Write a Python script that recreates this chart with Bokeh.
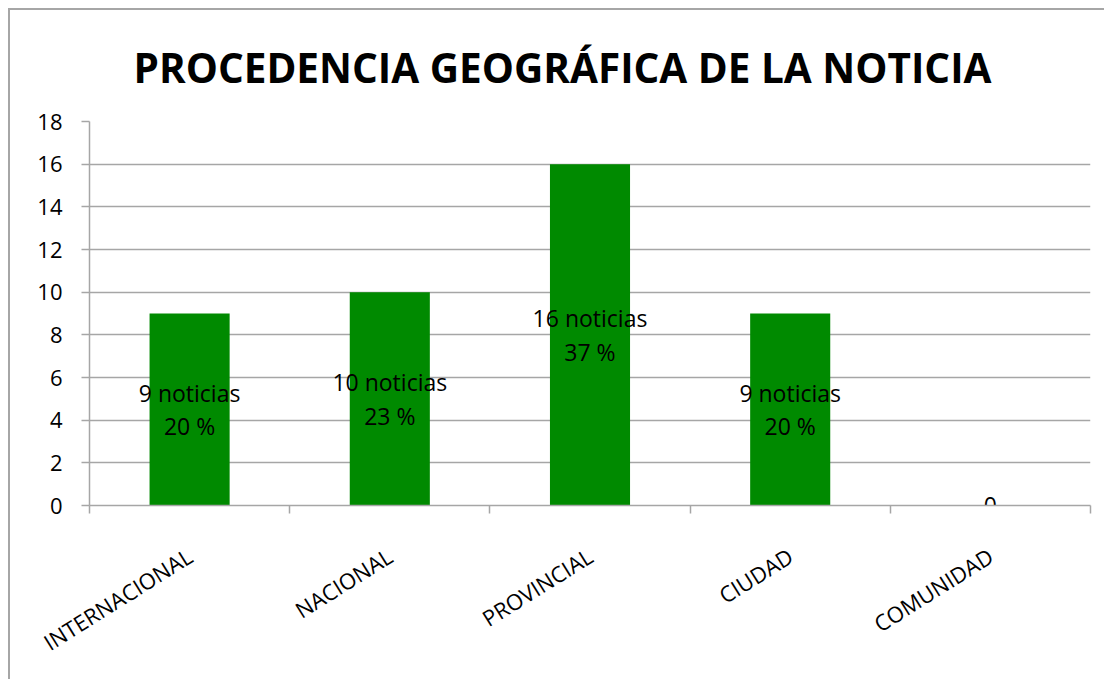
from bokeh.plotting import figure
from bokeh.models import ColumnDataSource, FixedTicker, Range1d, Title
from bokeh.core.properties import value
from bokeh.embed import file_html
from bokeh.resources import INLINE

categories = ["INTERNACIONAL", "NACIONAL", "PROVINCIAL", "CIUDAD", "COMUNIDAD"]
counts = [9, 10, 16, 9, 0]
percents = [20, 23, 37, 20, 0]
y_ticks = [0, 2, 4, 6, 8, 10, 12, 14, 16, 18]

FONT = "Open Sans"
GRID = "#a6a6a6"
GREEN = "#008a00"

xs = [i + 0.5 for i in range(len(categories))]
labels = [f"{n} noticias\n{p} %" if n else "0" for n, p in zip(counts, percents)]
src = ColumnDataSource(dict(x=xs, top=counts, mid=[c / 2 for c in counts], label=labels))

p = figure(width=1096, height=671, output_backend="svg", toolbar_location=None,
           x_range=Range1d(0, len(categories)), y_range=Range1d(0, 18),
           min_border_left=79, min_border_right=16, min_border_top=111, min_border_bottom=176,
           title=None)
p.styles = {"margin-left": "10px", "margin-top": "10px",
            "box-shadow": "-2px -2px 0 0 #a6a6a6"}

t = Title(text="PROCEDENCIA GEOGRÁFICA DE LA NOTICIA", align="left", vertical_align="middle",
          text_font=FONT, text_font_size="40.5px", text_font_style="bold",
          text_color="black", standoff=52, offset=44)
p.add_layout(t, "above")

p.vbar(x="x", top="top", width=0.4, bottom=0, source=src, fill_color=GREEN, line_color=None)
p.text(x="x", y="mid", text="label", source=src, text_align="center", text_baseline="middle",
       text_font=value(FONT), text_font_size="23px", text_line_height=1.05, text_color="black")

p.outline_line_color = None
p.background_fill_color = "white"
p.border_fill_color = "white"

p.xgrid.grid_line_color = None
p.ygrid.grid_line_color = GRID
p.ygrid.grid_line_width = 1.5

p.yaxis.ticker = FixedTicker(ticks=y_ticks)
p.yaxis.axis_line_color = GRID
p.yaxis.axis_line_width = 1.5
p.yaxis.major_tick_line_color = GRID
p.yaxis.major_tick_line_width = 1.5
p.yaxis.major_tick_out = 8
p.yaxis.major_tick_in = 0
p.yaxis.minor_tick_line_color = None
p.yaxis.major_label_text_font = FONT
p.yaxis.major_label_text_font_size = "22px"
p.yaxis.major_label_text_color = "black"
p.yaxis.major_label_standoff = 19

p.xaxis.ticker = FixedTicker(ticks=xs, minor_ticks=list(range(len(categories) + 1)))
p.xaxis.major_label_overrides = {x: c for x, c in zip(xs, categories)}
p.xaxis.axis_line_color = GRID
p.xaxis.axis_line_width = 1.5
p.xaxis.major_tick_line_color = None
p.xaxis.minor_tick_line_color = GRID
p.xaxis.minor_tick_line_width = 1.5
p.xaxis.minor_tick_out = 8
p.xaxis.minor_tick_in = 0
p.xaxis.major_label_orientation = 0.56
p.xaxis.major_label_text_font = FONT
p.xaxis.major_label_text_font_size = "22px"
p.xaxis.major_label_text_color = "black"
p.xaxis.major_label_standoff = 40

open("out.html", "w").write(file_html(p, INLINE))
